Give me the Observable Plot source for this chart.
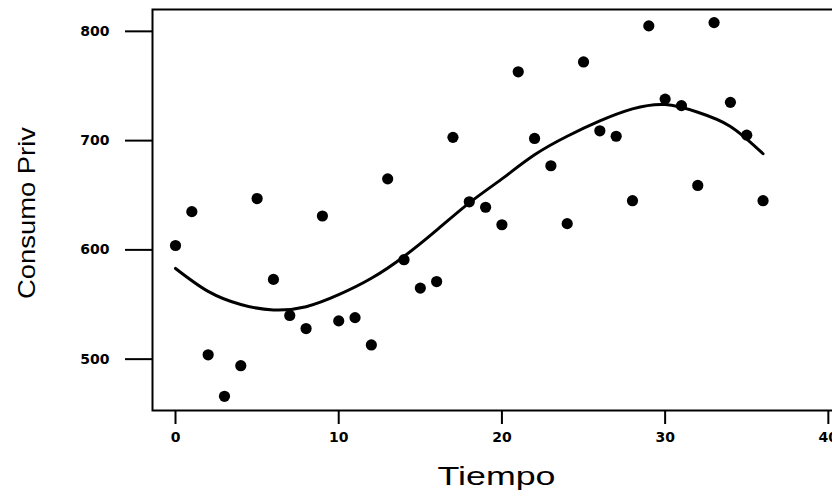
<!DOCTYPE html>
<html>
<head>
<meta charset="utf-8">
<script src="https://cdn.jsdelivr.net/npm/d3@7"></script>
<script src="https://cdn.jsdelivr.net/npm/@observablehq/plot@0.6"></script>
<style>
  html, body { margin: 0; padding: 0; background: #fff; }
  #chart svg { display: block; }
</style>
</head>
<body>
<div id="chart"></div>
<script>
// Observed data: Tiempo vs Consumo Priv
const tiempo = [0, 1, 2, 3, 4, 5, 6, 7, 8, 9, 10, 11, 12, 13, 14, 15, 16, 17, 18,
                19, 20, 21, 22, 23, 24, 25, 26, 27, 28, 29, 30, 31, 32, 33, 34, 35, 36];
const consumo = [604, 635, 504, 466, 494, 647, 573, 540, 528, 631, 535, 538, 513, 665, 591, 565, 571, 703, 644,
                 639, 623, 763, 702, 677, 624, 772, 709, 704, 645, 805, 738, 732, 659, 808, 735, 705, 645];

// Fitted curve
const fitX = [0, 2, 4, 6, 8, 10, 12, 14, 16, 18, 20, 22, 24, 26, 28, 30, 32, 34, 36];
const fitY = [583, 562, 550, 545, 548, 559, 574, 594, 618, 643, 665, 687, 704, 718, 729, 733, 726, 713, 688];

// Tick labels
const xTicks = [0, 10, 20, 30, 40];
const yTicks = [500, 600, 700, 800];

const points = tiempo.map((t, i) => ({t, c: consumo[i]}));
const fit = fitX.map((t, i) => ({t, c: fitY[i]}));

const tickFont = "'DejaVu Sans', sans-serif";

const plot = Plot.plot({
  width: 832,
  height: 497,
  marginLeft: 152,
  marginRight: -4,
  marginTop: 9,
  marginBottom: 87,
  style: {background: "#fff", color: "#000"},
  x: {domain: [-1.41, 40.5]},
  y: {domain: [453, 820]},
  marks: [
    Plot.frame({stroke: "#000", strokeWidth: 2}),
    Plot.axisX({
      ticks: xTicks, tickSize: 14, tickPadding: 8, strokeWidth: 2,
      label: null, fontSize: 14, fontWeight: "bold", fontFamily: tickFont
    }),
    Plot.axisY({
      ticks: yTicks, tickSize: 27, tickPadding: 16, strokeWidth: 2,
      label: null, fontSize: 14, fontWeight: "bold", fontFamily: tickFont
    }),
    Plot.line(fit, {x: "t", y: "c", stroke: "#000", strokeWidth: 3, curve: "natural"}),
    Plot.dot(points, {x: "t", y: "c", r: 5.6, fill: "#000", stroke: "none"}),
    Plot.text(["Consumo Priv"], {
      frameAnchor: "left", dx: -125, dy: 3, rotate: -90, lineAnchor: "middle",
      textAnchor: "middle", fontSize: 24, fontFamily: "'Liberation Sans', Arial, sans-serif",
      fill: "#000", className: "ylab"
    }),
    Plot.text(["Tiempo"], {
      frameAnchor: "bottom", dx: 2, dy: 66, lineAnchor: "middle",
      textAnchor: "middle", fontSize: 26, fontFamily: "'Liberation Sans', Arial, sans-serif",
      fill: "#000", className: "xlab"
    })
  ]
});

document.getElementById("chart").appendChild(plot);

// stretch axis titles to match the reference widths
d3.select(plot).selectAll("text").each(function() {
  const s = d3.select(this);
  const t = s.text();
  if (t === "Tiempo") s.attr("textLength", 118).attr("lengthAdjust", "spacingAndGlyphs");
  if (t === "Consumo Priv") s.attr("textLength", 172).attr("lengthAdjust", "spacingAndGlyphs");
});
</script>
</body>
</html>
